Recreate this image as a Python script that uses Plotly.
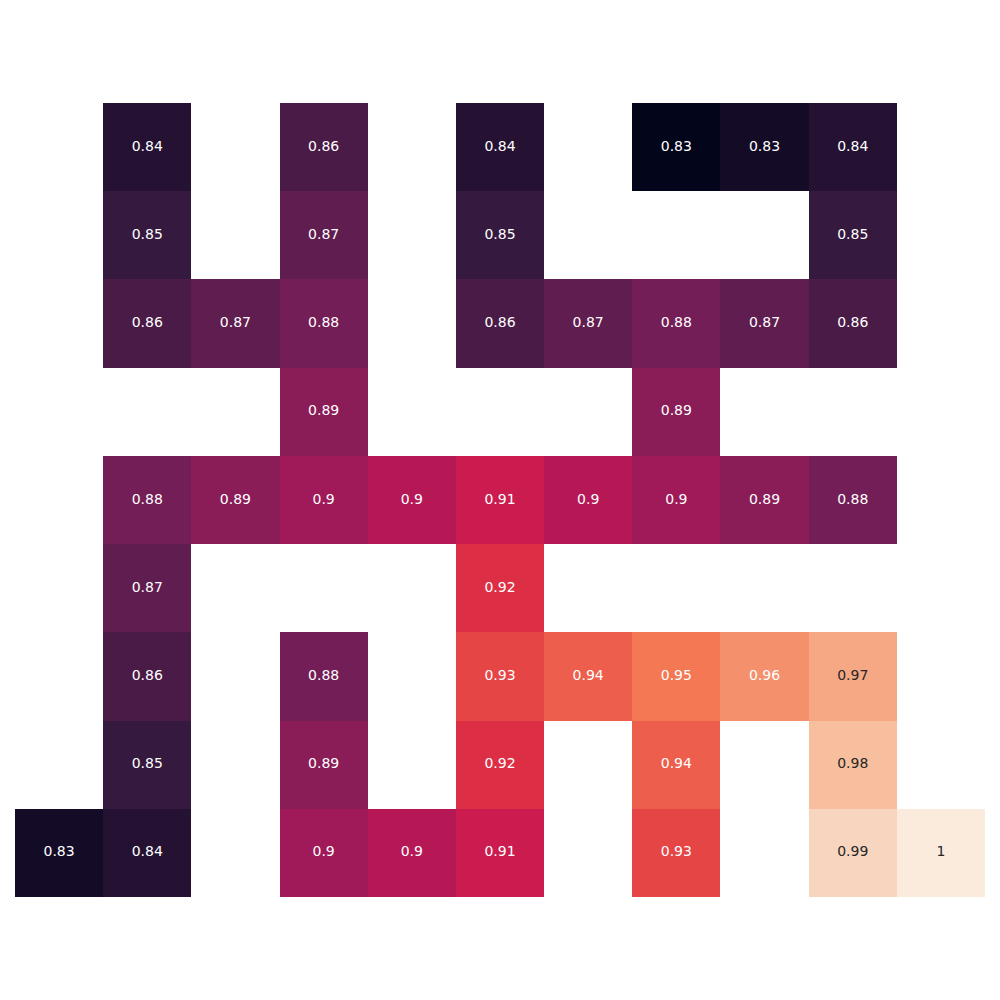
import plotly.graph_objects as go

# Grid values (rows top->bottom, columns left->right); None = empty cell
row0 = [None, 0.8429, None, 0.8600, None, 0.8429, None, 0.8262, 0.8345, 0.8429, None]
row1 = [None, 0.8515, None, 0.8687, None, 0.8515, None, None, None, 0.8515, None]
row2 = [None, 0.8600, 0.8687, 0.8775, None, 0.8600, 0.8687, 0.8775, 0.8687, 0.8600, None]
row3 = [None, None, None, 0.8864, None, None, None, 0.8864, None, None, None]
row4 = [None, 0.8775, 0.8864, 0.8953, 0.9044, 0.9135, 0.9044, 0.8953, 0.8864, 0.8775, None]
row5 = [None, 0.8687, None, None, None, 0.9227, None, None, None, None, None]
row6 = [None, 0.8600, None, 0.8775, None, 0.9321, 0.9415, 0.9510, 0.9606, 0.9703, None]
row7 = [None, 0.8515, None, 0.8864, None, 0.9227, None, 0.9415, None, 0.9801, None]
row8 = [0.8345, 0.8429, None, 0.8953, 0.9044, 0.9135, None, 0.9321, None, 0.9900, 1.0000]

rows = [row0, row1, row2, row3, row4, row5, row6, row7, row8]
col_idx = list(range(11))
row_idx = list(range(9))

rocket = [
    [0.0, "#03051a"],
    [1/7, "#35193e"],
    [2/7, "#701f57"],
    [3/7, "#ad1759"],
    [0.5, "#cb1b4f"],
    [4/7, "#e13342"],
    [5/7, "#f37651"],
    [6/7, "#f6b48f"],
    [1.0, "#faebdd"],
]

def fmt(v):
    return f"{v:.2g}"

fig = go.Figure()
fig.add_trace(go.Heatmap(
    z=rows, x=col_idx, y=row_idx,
    colorscale=rocket, showscale=False,
    hoverongaps=False, xgap=0, ygap=0,
))

tx, ty, tt, tc = [], [], [], []
for r, row in zip(row_idx, rows):
    for c, v in zip(col_idx, row):
        if v is None:
            continue
        tx.append(c)
        ty.append(r)
        tt.append(fmt(v))
        tc.append("#262626" if v >= 0.965 else "#ffffff")

fig.add_trace(go.Scatter(
    x=tx, y=ty, text=tt, mode="text",
    textfont=dict(family="DejaVu Sans", size=14, color=tc),
    hoverinfo="skip", showlegend=False,
))

fig.update_xaxes(visible=False, range=[-0.5, 10.5], showgrid=False, zeroline=False)
fig.update_yaxes(visible=False, range=[8.5, -0.5], showgrid=False, zeroline=False)
fig.update_layout(
    width=1000, height=1000,
    margin=dict(l=15, r=15, t=103, b=103),
    paper_bgcolor="white", plot_bgcolor="white",
    showlegend=False,
)
fig.write_html("out.html")
